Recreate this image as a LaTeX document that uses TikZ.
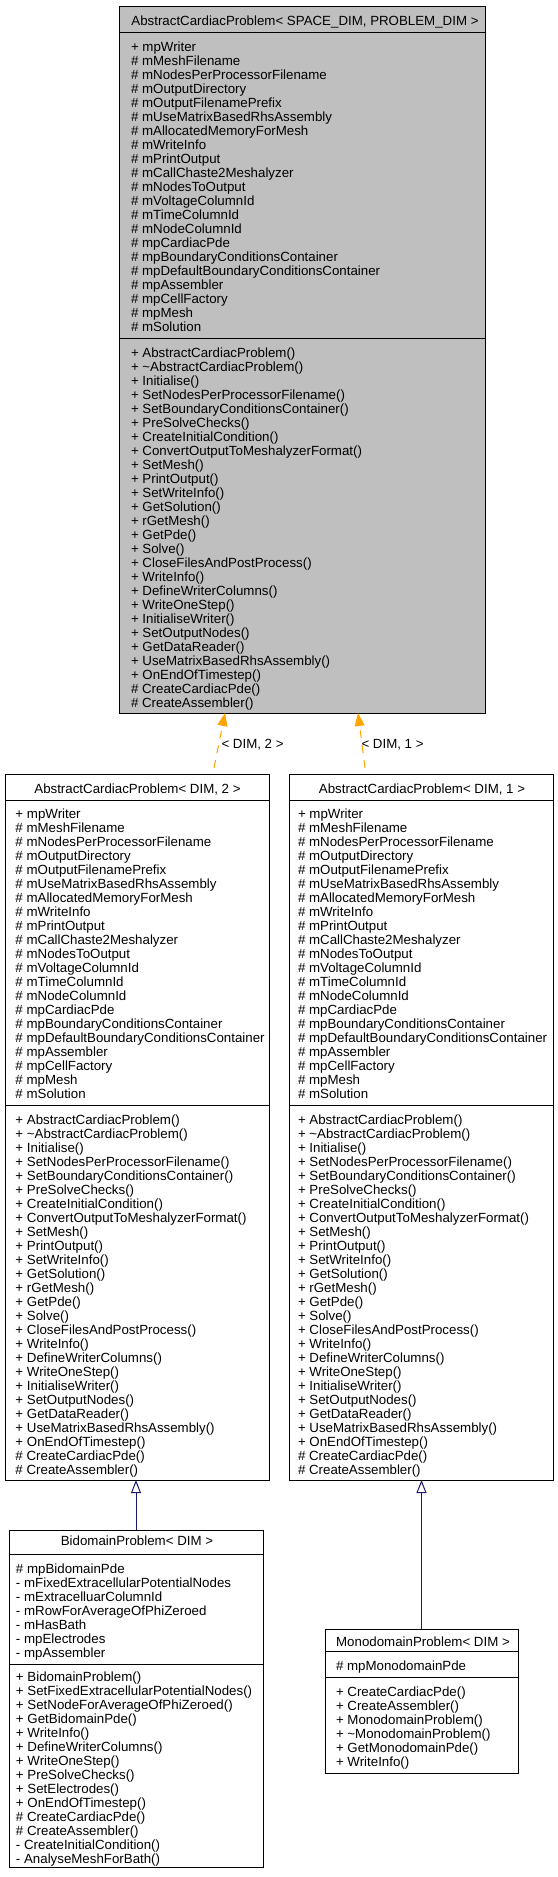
\documentclass[tikz,border=0pt]{standalone}
\usepackage{fontspec}
\setmainfont{Liberation Sans}
\usetikzlibrary{arrows.meta}
\definecolor{dxgray}{HTML}{BFBFBF}
\definecolor{dxblue}{HTML}{191970}
\definecolor{dxorange}{HTML}{FFA500}
\newcommand\acpAttrList{\strut+ mpWriter\\\# mMeshFilename\\\# mNodesPerProcessorFilename\\\# mOutputDirectory\\\# mOutputFilenamePrefix\\\# mUseMatrixBasedRhsAssembly\\\# mAllocatedMemoryForMesh\\\# mWriteInfo\\\# mPrintOutput\\\# mCallChaste2Meshalyzer\\\# mNodesToOutput\\\# mVoltageColumnId\\\# mTimeColumnId\\\# mNodeColumnId\\\# mpCardiacPde\\\# mpBoundaryConditionsContainer\\\# mpDefaultBoundaryConditionsContainer\\\# mpAssembler\\\# mpCellFactory\\\# mpMesh\\\# mSolution}
\newcommand\acpOpList{\strut+ AbstractCardiacProblem()\\+ \textasciitilde AbstractCardiacProblem()\\+ Initialise()\\+ SetNodesPerProcessorFilename()\\+ SetBoundaryConditionsContainer()\\+ PreSolveChecks()\\+ CreateInitialCondition()\\+ ConvertOutputToMeshalyzerFormat()\\+ SetMesh()\\+ PrintOutput()\\+ SetWriteInfo()\\+ GetSolution()\\+ rGetMesh()\\+ GetPde()\\+ Solve()\\+ CloseFilesAndPostProcess()\\+ WriteInfo()\\+ DefineWriterColumns()\\+ WriteOneStep()\\+ InitialiseWriter()\\+ SetOutputNodes()\\+ GetDataReader()\\+ UseMatrixBasedRhsAssembly()\\+ OnEndOfTimestep()\\\# CreateCardiacPde()\\\# CreateAssembler()}
\begin{document}
\begin{tikzpicture}[x=1pt,y=-1pt,
  classbox/.style={draw=black,line width=1pt,fill=white,inner sep=0pt,outer sep=0pt,anchor=north west},
  sepline/.style={draw=black,line width=1pt},
  txt/.style={inner sep=0pt,outer sep=0pt,anchor=north west,align=left,font=\fontsize{13.3}{14}\selectfont},
  ttl/.style={inner sep=0pt,outer sep=0pt,anchor=base,font=\fontsize{13.3}{14}\selectfont},
  lbl/.style={inner sep=0pt,outer sep=0pt,anchor=base west,font=\fontsize{13.3}{14}\selectfont},
  inh/.style={draw=dxblue,line width=1pt,-{Triangle[open,length=13pt,width=10pt]}},
  tmpl/.style={draw=dxorange,line width=1pt,dash pattern=on 8pt off 7pt,-{Triangle[length=13pt,width=10pt]}}]
\useasboundingbox (0,0) rectangle (557,1877);
% top class
\node[classbox,fill=dxgray,minimum width=366pt,minimum height=707pt] (T) at (119,6) {};
\draw[sepline] (119,32) -- (485,32);
\draw[sepline] (119,338) -- (485,338);
\node[ttl] (Tt) at (305,25) {AbstractCardiacProblem< SPACE\_DIM, PROBLEM\_DIM >};
\node[txt] (Ta) at (131,41.2) {\acpAttrList};
\node[txt] (To) at (131,347.2) {\acpOpList};
% middle left
\node[classbox,minimum width=264pt,minimum height=706pt] (L) at (5,774) {};
\draw[sepline] (5,800) -- (269,800);
\draw[sepline] (5,1105) -- (269,1105);
\node[ttl] (Lt) at (137.5,793) {AbstractCardiacProblem< DIM, 2 >};
\node[txt] (La) at (15.5,808.2) {\acpAttrList};
\node[txt] (Lo) at (15.5,1114.2) {\acpOpList};
% middle right
\node[classbox,minimum width=264pt,minimum height=706pt] (R) at (289,774) {};
\draw[sepline] (289,800) -- (553,800);
\draw[sepline] (289,1105) -- (553,1105);
\node[ttl] (Rt) at (422,793) {AbstractCardiacProblem< DIM, 1 >};
\node[txt] (Ra) at (298,808.2) {\acpAttrList};
\node[txt] (Ro) at (298,1114.2) {\acpOpList};
% bidomain
\node[classbox,minimum width=254pt,minimum height=337pt] (B) at (9,1530) {};
\draw[sepline] (9,1554) -- (263,1554);
\draw[sepline] (9,1664) -- (263,1664);
\node[ttl] (Bt) at (137,1545) {BidomainProblem< DIM >};
\node[txt] (Ba) at (16,1563.2) {\strut\# mpBidomainPde\\- mFixedExtracellularPotentialNodes\\- mExtracelluarColumnId\\- mRowForAverageOfPhiZeroed\\- mHasBath\\- mpElectrodes\\- mpAssembler};
\node[txt] (Bo) at (16,1672) {\strut+ BidomainProblem()\\+ SetFixedExtracellularPotentialNodes()\\+ SetNodeForAverageOfPhiZeroed()\\+ GetBidomainPde()\\+ WriteInfo()\\+ DefineWriterColumns()\\+ WriteOneStep()\\+ PreSolveChecks()\\+ SetElectrodes()\\+ OnEndOfTimestep()\\\# CreateCardiacPde()\\\# CreateAssembler()\\- CreateInitialCondition()\\- AnalyseMeshForBath()};
% monodomain
\node[classbox,minimum width=193pt,minimum height=144pt] (M) at (325,1629) {};
\draw[sepline] (325,1651) -- (518,1651);
\draw[sepline] (325,1677) -- (518,1677);
\node[ttl] (Mt) at (423,1646) {MonodomainProblem< DIM >};
\node[txt] (Ma) at (336,1660.2) {\strut\# mpMonodomainPde};
\node[txt] (Mo) at (336,1686.2) {\strut+ CreateCardiacPde()\\+ CreateAssembler()\\+ MonodomainProblem()\\+ \textasciitilde MonodomainProblem()\\+ GetMonodomainPde()\\+ WriteInfo()};
% template instantiation edges
\coordinate (d2s) at (214,768);
\coordinate (d2e) at (225,713);
\coordinate (d1s) at (365,768);
\coordinate (d1e) at (358,713);
\draw[tmpl] (d2s) -- (d2e);
\draw[tmpl] (d1s) -- (d1e);
\node[lbl] (l2) at (221.5,748) {< DIM, 2 >};
\node[lbl] (l1) at (361.5,748) {< DIM, 1 >};
% inheritance edges
\draw[inh] (B.north) -- (B.north |- L.south);
\draw[inh] (M.north) -- (M.north |- R.south);
\end{tikzpicture}
\end{document}
